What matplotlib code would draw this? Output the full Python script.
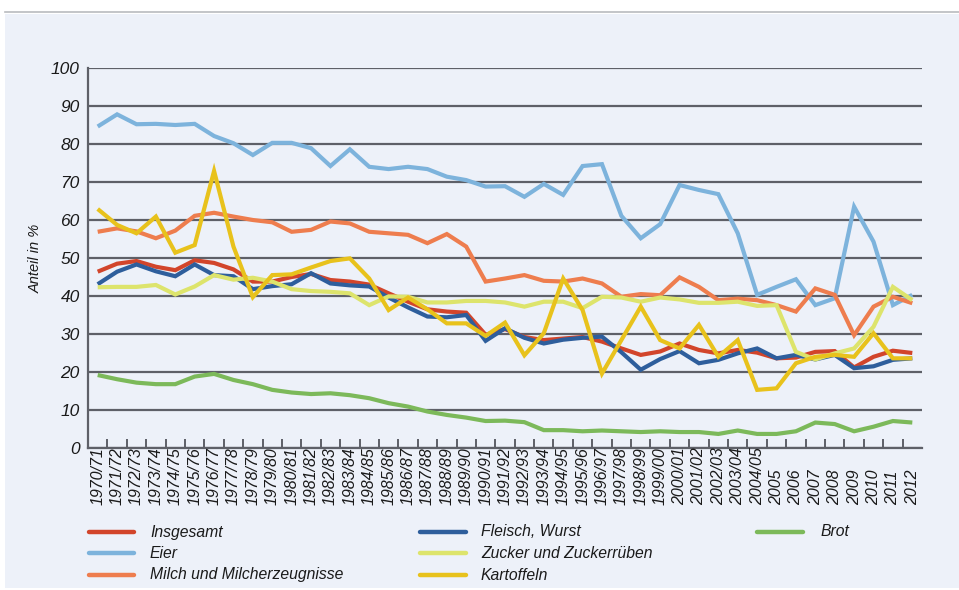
import matplotlib
matplotlib.use("Agg")
import matplotlib.pyplot as plt
from matplotlib.lines import Line2D
from matplotlib.patches import Rectangle
import matplotlib.transforms as mtransforms

years = [f"{y}/{str(y + 1)[-2:]}" for y in range(1970, 2005)] + [str(y) for y in range(2005, 2013)]

insgesamt = [46.4, 48.5, 49.2, 47.7, 46.8, 49.4, 48.7, 47.0, 43.8, 43.8, 45.0, 45.8, 44.2, 43.8, 43.0,
             40.7, 38.5, 36.5, 35.9, 35.6, 29.8, 31.3, 29.2, 28.4, 28.8, 29.2, 28.0, 26.2, 24.5, 25.4,
             27.5, 25.8, 24.9, 25.8, 25.1, 23.6, 23.8, 25.3, 25.5, 21.2, 24.0, 25.6, 25.0]
fleisch = [43.1, 46.4, 48.3, 46.5, 45.2, 48.3, 45.5, 45.2, 41.8, 42.6, 43.1, 46.0, 43.3, 42.8, 42.5,
           39.6, 37.0, 34.6, 34.4, 35.0, 28.2, 31.5, 29.0, 27.5, 28.5, 29.0, 29.3, 25.2, 20.6, 23.4,
           25.5, 22.3, 23.2, 24.9, 26.2, 23.6, 24.5, 23.3, 24.5, 21.0, 21.5, 23.2, 23.6]
eier = [84.6, 87.8, 85.2, 85.3, 85.0, 85.3, 82.1, 80.2, 77.1, 80.3, 80.3, 78.9, 74.2, 78.6, 74.0,
        73.4, 74.0, 73.4, 71.4, 70.5, 68.8, 68.9, 66.1, 69.5, 66.6, 74.2, 74.7, 61.1, 55.2, 58.9,
        69.2, 67.9, 66.8, 56.5, 40.3, 42.4, 44.4, 37.6, 39.4, 63.5, 54.3, 37.6, 40.3]
milch = [56.9, 57.8, 57.0, 55.2, 57.2, 61.1, 61.9, 60.9, 60.0, 59.4, 56.9, 57.4, 59.6, 59.1, 56.9,
         56.5, 56.1, 53.9, 56.3, 53.0, 43.8, 44.6, 45.5, 44.0, 43.8, 44.6, 43.3, 39.8, 40.5, 40.2,
         44.9, 42.4, 38.9, 39.3, 38.9, 37.6, 35.9, 42.0, 40.3, 29.7, 37.2, 39.8, 38.1]
zucker = [42.3, 42.4, 42.4, 42.9, 40.4, 42.5, 45.5, 44.3, 44.8, 43.8, 41.8, 41.3, 41.1, 40.7, 37.6,
          39.9, 39.8, 38.3, 38.3, 38.7, 38.7, 38.3, 37.2, 38.5, 38.5, 36.8, 39.8, 39.6, 38.5, 39.6,
          39.1, 38.2, 38.2, 38.5, 37.4, 37.6, 25.3, 23.3, 24.9, 26.2, 31.9, 42.4, 38.9]
kartoffeln = [62.9, 58.7, 56.5, 60.9, 51.4, 53.4, 72.9, 53.0, 39.7, 45.5, 45.7, 47.5, 49.2, 49.9, 44.6,
              36.3, 39.6, 36.5, 32.8, 32.8, 29.5, 33.0, 24.4, 30.2, 44.6, 36.3, 19.6, 28.4, 37.2, 28.4,
              26.2, 32.4, 24.0, 28.4, 15.3, 15.7, 22.3, 24.0, 24.5, 24.0, 30.2, 23.6, 23.6]
brot = [19.2, 18.1, 17.2, 16.8, 16.8, 18.8, 19.5, 17.9, 16.8, 15.3, 14.6, 14.2, 14.4, 13.9, 13.1,
        11.8, 10.9, 9.6, 8.7, 8.0, 7.1, 7.2, 6.8, 4.7, 4.7, 4.4, 4.6, 4.4, 4.2, 4.4,
        4.2, 4.2, 3.7, 4.6, 3.7, 3.7, 4.4, 6.7, 6.3, 4.4, 5.6, 7.1, 6.7]

names = ["Insgesamt", "Eier", "Milch und Milcherzeugnisse", "Fleisch, Wurst",
         "Zucker und Zuckerrüben", "Kartoffeln", "Brot"]
series = [insgesamt, eier, milch, fleisch, zucker, kartoffeln, brot]
colors = ["#D2452B", "#7DB3DC", "#EE7D4E", "#2E5E9C", "#DDE46C", "#E8C21C", "#7CB95A"]
zorders = [4, 2, 3, 5, 6, 7, 2]

FONT = ["Liberation Sans Narrow", "Liberation Sans", "DejaVu Sans"]
plt.rcParams["font.family"] = FONT

W, H = 959, 590
fig = plt.figure(figsize=(W / 100, H / 100), dpi=100, facecolor="white")

def fx(px):
    return px / W

def fy(py):
    return 1 - py / H

# panel background and top rule
fig.add_artist(Rectangle((fx(5), fy(588)), fx(954), (588 - 14) / H, transform=fig.transFigure,
                         facecolor="#EDF1F9", edgecolor="none", zorder=0))
fig.add_artist(Line2D([fx(5), 1], [fy(11.5), fy(11.5)], transform=fig.transFigure,
                      color="#B9BBBF", lw=1.2, zorder=1))

ax = fig.add_axes([fx(88), fy(448), fx(922 - 88), (448 - 68) / H])
ax.set_facecolor("none")

x = list(range(len(years)))
for s, c, z in zip(series, colors, zorders):
    ax.plot(x, s, color=c, lw=3, solid_joinstyle="miter", solid_capstyle="butt", zorder=z)

ax.set_xlim(-0.5, len(years) - 0.5)
ax.set_ylim(0, 100)
ax.set_yticks(range(0, 101, 10))
ax.set_yticklabels([str(v) for v in range(0, 101, 10)], fontsize=12.5, style="italic")
ax.tick_params(axis="y", length=0, pad=6, labelcolor="#1a1a1a")
ax.yaxis.grid(True, color="#5E6068", lw=1.6)
ax.set_axisbelow(True)

ax.set_xticks([])
ax.set_xticks([i + 0.5 for i in range(len(years) - 1)], minor=True)
ax.tick_params(axis="x", which="minor", direction="in", length=6.5, width=1.4, color="#5E6068")
ax.tick_params(axis="x", which="major", length=0)

for sp in ["top", "right"]:
    ax.spines[sp].set_visible(False)
ax.spines["left"].set_color("#5E6068")
ax.spines["left"].set_linewidth(1.6)
ax.spines["bottom"].set_color("#5E6068")
ax.spines["bottom"].set_linewidth(1.6)

trans = mtransforms.blended_transform_factory(ax.transData, ax.transAxes)
for i, lab in enumerate(years):
    ax.text(i, -(505 - 448) / 380, lab, rotation=90, ha="center", va="bottom",
            fontsize=11.5, style="italic", color="#1a1a1a", transform=trans)

fig.text(fx(36), fy(258), "Anteil in %", rotation=90, ha="center", va="center",
         fontsize=10.5, style="italic", color="#1a1a1a")

# legend
cols = [(89, 134, 150), (420, 466, 481), (757, 803, 821)]
rows = [532, 553, 575]
slots = [(0, 0), (0, 1), (0, 2), (1, 0), (1, 1), (1, 2), (2, 0)]
for name, c, (ci, ri) in zip(names, colors, slots):
    x0, x1, xt = cols[ci]
    yy = rows[ri]
    fig.add_artist(Line2D([fx(x0), fx(x1)], [fy(yy), fy(yy)], transform=fig.transFigure,
                          color=c, lw=3.2, solid_capstyle="round"))
    fig.text(fx(xt), fy(yy), name, ha="left", va="center", fontsize=11.3, style="italic",
             color="#1a1a1a")

fig.savefig("out.png", dpi=100, facecolor="white")
